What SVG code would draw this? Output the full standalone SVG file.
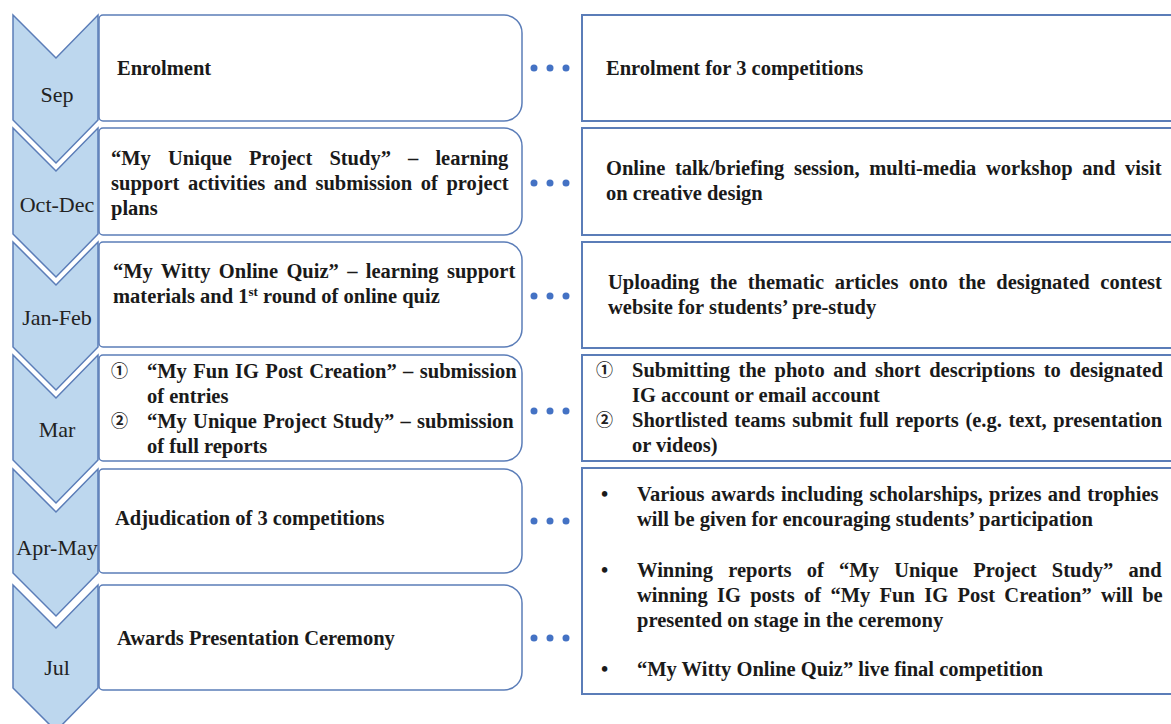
<svg xmlns="http://www.w3.org/2000/svg" width="1171" height="724" viewBox="0 0 1171 724" font-family="Liberation Serif">
<style>
.chev{fill:#BDD7EE;stroke:#5B7DB8;stroke-width:1.5;stroke-linejoin:miter}
.mbox{fill:#FFFFFF;stroke:#5B7DB8;stroke-width:1.5}
.rbox{fill:#FFFFFF;stroke:#5B7DB8;stroke-width:2}
.t{font-family:'Liberation Serif',serif;font-weight:bold;font-size:20.5px;fill:#1A1A1A}
.m{font-family:'Liberation Serif',serif;font-size:22px;fill:#222222;text-anchor:middle}
.c{font-family:'Noto Sans CJK JP',sans-serif;font-size:17px;font-weight:bold;fill:#222222}
.dot{fill:#4472C4}
</style>
<rect width="1171" height="724" fill="#FFFFFF"/>

<g id="sep">
<polygon class="chev" points="13,15 56,58 98,15 98,120 56,163 13,120"/>
<text class="m" x="57" y="102">Sep</text>
<path class="mbox" d="M103,15 H504 A18,18 0 0 1 522,33 V103 A18,18 0 0 1 504,121 H103 A4,4 0 0 1 99,117 V19 A4,4 0 0 1 103,15 Z"/>
<text class="t" x="117" y="75">Enrolment</text>
<rect class="rbox" x="582" y="15" width="620" height="106"/>
<text class="t" x="606" y="75">Enrolment for 3 competitions</text>
</g>

<g id="octdec">
<polygon class="chev" points="13,128 56,171 98,128 98,234 56,277 13,234"/>
<text class="m" x="57" y="212">Oct-Dec</text>
<path class="mbox" d="M103,128 H504 A18,18 0 0 1 522,146 V217 A18,18 0 0 1 504,235 H103 A4,4 0 0 1 99,231 V132 A4,4 0 0 1 103,128 Z"/>
<text class="t" x="111" y="165" word-spacing="12">“My Unique Project Study” – learning</text>
<text class="t" x="111" y="190" word-spacing="3.4">support activities and submission of project</text>
<text class="t" x="111" y="215">plans</text>
<rect class="rbox" x="582" y="128" width="620" height="107"/>
<text class="t" x="606" y="175" word-spacing="4.6">Online talk/briefing session, multi-media workshop and visit</text>
<text class="t" x="606" y="200">on creative design</text>
</g>

<g id="janfeb">
<polygon class="chev" points="13,242 56,285 98,242 98,347 56,390 13,347"/>
<text class="m" x="57" y="325">Jan-Feb</text>
<path class="mbox" d="M103,242 H504 A18,18 0 0 1 522,260 V329 A18,18 0 0 1 504,347 H103 A4,4 0 0 1 99,343 V246 A4,4 0 0 1 103,242 Z"/>
<text class="t" x="113" y="278" word-spacing="3.2">“My Witty Online Quiz” – learning support</text>
<text class="t" x="113" y="303">materials and 1<tspan font-size="13" dy="-7">st</tspan><tspan dy="7"> round of online quiz</tspan></text>
<rect class="rbox" x="582" y="242" width="620" height="106"/>
<text class="t" x="608" y="289" word-spacing="5.5">Uploading the thematic articles onto the designated contest</text>
<text class="t" x="608" y="314">website for students’ pre-study</text>
</g>

<g id="mar">
<polygon class="chev" points="13,355 56,398 98,355 98,460 56,503 13,460"/>
<text class="m" x="57" y="437">Mar</text>
<path class="mbox" d="M103,355 H504 A18,18 0 0 1 522,373 V443 A18,18 0 0 1 504,461 H103 A4,4 0 0 1 99,457 V359 A4,4 0 0 1 103,355 Z"/>
<text class="c" x="111" y="377">①</text>
<text class="t" x="147" y="378" word-spacing="1.3">“My Fun IG Post Creation” – submission</text>
<text class="t" x="147" y="403">of entries</text>
<text class="c" x="111" y="427">②</text>
<text class="t" x="147" y="428" word-spacing="1.1">“My Unique Project Study” – submission</text>
<text class="t" x="147" y="453">of full reports</text>
<rect class="rbox" x="582" y="355" width="620" height="106"/>
<text class="c" x="596" y="376">①</text>
<text class="t" x="632" y="377" word-spacing="3.5">Submitting the photo and short descriptions to designated</text>
<text class="t" x="632" y="402">IG account or email account</text>
<text class="c" x="596" y="426">②</text>
<text class="t" x="632" y="427" word-spacing="1.5">Shortlisted teams submit full reports (e.g. text, presentation</text>
<text class="t" x="632" y="452">or videos)</text>
</g>

<g id="aprmay">
<polygon class="chev" points="13,469 56,512 98,469 98,573 56,616 13,573"/>
<text class="m" x="57" y="555">Apr-May</text>
<path class="mbox" d="M103,469 H504 A18,18 0 0 1 522,487 V555 A18,18 0 0 1 504,573 H103 A4,4 0 0 1 99,569 V473 A4,4 0 0 1 103,469 Z"/>
<text class="t" x="115" y="525">Adjudication of 3 competitions</text>
</g>

<g id="jul">
<polygon class="chev" points="13,585 56,628 98,585 98,688 56,731 13,688"/>
<text class="m" x="57" y="675">Jul</text>
<path class="mbox" d="M103,585 H504 A18,18 0 0 1 522,603 V672 A18,18 0 0 1 504,690 H103 A4,4 0 0 1 99,686 V589 A4,4 0 0 1 103,585 Z"/>
<text class="t" x="117" y="645">Awards Presentation Ceremony</text>
</g>

<g id="outcomes">
<rect class="rbox" x="582" y="468" width="620" height="226"/>
<text class="t" x="601" y="501">•</text>
<text class="t" x="637" y="501" word-spacing="1.2">Various awards including scholarships, prizes and trophies</text>
<text class="t" x="637" y="526">will be given for encouraging students’ participation</text>
<text class="t" x="601" y="577">•</text>
<text class="t" x="637" y="577" word-spacing="10.1">Winning reports of “My Unique Project Study” and</text>
<text class="t" x="637" y="602" word-spacing="4.2">winning IG posts of “My Fun IG Post Creation” will be</text>
<text class="t" x="637" y="627">presented on stage in the ceremony</text>
<text class="t" x="601" y="676">•</text>
<text class="t" x="637" y="676">“My Witty Online Quiz” live final competition</text>
</g>

<g id="connectors">
<circle class="dot" cx="534" cy="68" r="3.5"/><circle class="dot" cx="550" cy="68" r="3.5"/><circle class="dot" cx="566" cy="68" r="3.5"/>
<circle class="dot" cx="534" cy="183" r="3.5"/><circle class="dot" cx="550" cy="183" r="3.5"/><circle class="dot" cx="566" cy="183" r="3.5"/>
<circle class="dot" cx="534" cy="296" r="3.5"/><circle class="dot" cx="550" cy="296" r="3.5"/><circle class="dot" cx="566" cy="296" r="3.5"/>
<circle class="dot" cx="534" cy="411" r="3.5"/><circle class="dot" cx="550" cy="411" r="3.5"/><circle class="dot" cx="566" cy="411" r="3.5"/>
<circle class="dot" cx="534" cy="521" r="3.5"/><circle class="dot" cx="550" cy="521" r="3.5"/><circle class="dot" cx="566" cy="521" r="3.5"/>
<circle class="dot" cx="534" cy="638" r="3.5"/><circle class="dot" cx="550" cy="638" r="3.5"/><circle class="dot" cx="566" cy="638" r="3.5"/>
</g>
</svg>
